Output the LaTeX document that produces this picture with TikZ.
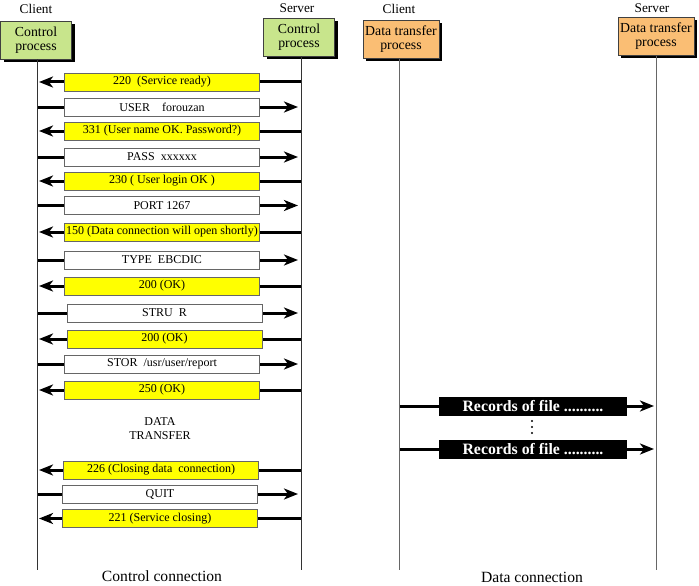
\documentclass[tikz,border=0pt]{standalone}
\usepackage{fontspec}
\setmainfont{Liberation Serif}
\usetikzlibrary{arrows.meta,positioning,shadows,backgrounds}
\definecolor{ctrlgreen}{RGB}{200,229,140}
\definecolor{dataorange}{RGB}{250,190,116}
\definecolor{msgyellow}{RGB}{255,255,0}

\begin{document}
\begin{tikzpicture}[x=1pt,y=-1pt,
  proc/.style={draw=black!75, fill=ctrlgreen, minimum width=71pt, minimum height=38pt, align=center, inner sep=0pt, font=\fontsize{13.8}{14}\selectfont, drop shadow={shadow xshift=3pt, shadow yshift=-3pt, fill=black, opacity=1}},
  side/.style={font=\fontsize{13.3}{14}\selectfont},
  reply/.style={draw=black!60, fill=msgyellow, minimum width=195pt, minimum height=18pt, inner sep=0pt, font=\fontsize{12}{13}\selectfont},
  cmd/.style={reply, fill=white},
  rec/.style={fill=black, text=white, minimum width=188pt, minimum height=19pt, inner sep=0pt, font=\fontsize{15.8}{16}\selectfont\bfseries},
  foot/.style={font=\fontsize{15.6}{16}\selectfont},
  life/.style={black!80, line width=0.8pt},
  toleft/.style={line width=3pt, -{Stealth[length=14pt,width=11pt,inset=4pt]}, shorten >=2pt},
  toright/.style={line width=3pt, -{Stealth[length=14pt,width=11pt,inset=4pt]}, shorten >=3pt}]
\useasboundingbox (0,0) rectangle (699,586);

% processes
\node[side] (cl1) at (36,9) {Client};
\node[side] (sv1) at (297,8) {Server};
\node[side] (cl2) at (399,9) {Client};
\node[side] (sv2) at (652,8) {Server};
\node[proc] (ccp) at (36,40) {Control\\process};
\node[proc] (scp) at (299,37) {Control\\process};
\node[proc, fill=dataorange, minimum width=76pt] (cdp) at (401,39.5) {Data transfer\\process};
\node[proc, fill=dataorange, minimum width=76pt] (sdp) at (656,36.5) {Data transfer\\process};

% lifelines
\coordinate (cli) at (37,570);
\coordinate (srv) at (301,570);
\coordinate (dcli) at (399,570);
\coordinate (dsrv) at (656,570);
\draw[life] (ccp.south -| cli) -- (cli);
\draw[life] (scp.south -| srv) -- (srv);
\draw[life, black!60] (cdp.south -| dcli) -- (dcli);
\draw[life, black!60] (sdp.south -| dsrv) -- (dsrv);

% control connection
\node[reply] (m1) at (162,82) {220\ \ (Service ready)};
\node[cmd] (m2) at (162,107) {USER\quad forouzan};
\node[reply] (m3) at (162,131) {331 (User name OK. Password?)};
\node[cmd] (m4) at (162,157) {PASS\ \ xxxxxx};
\node[reply] (m5) at (162,181) {230 ( User login OK )};
\node[cmd] (m6) at (162,205.5) {PORT 1267};
\node[reply] (m7) at (162,232) {150 (Data connection will open shortly)};
\node[cmd] (m8) at (162,260) {TYPE\ \ EBCDIC};
\node[reply] (m9) at (162,286) {200 (OK)};
\node[cmd] (m10) at (164.5,313) {STRU\ \ R};
\node[reply] (m11) at (164.5,339) {200 (OK)};
\node[cmd] (m12) at (162,364) {STOR\ \ /usr/user/report};
\node[reply] (m13) at (162,390) {250 (OK)};
\node[font=\fontsize{12}{14}\selectfont, align=center] (xfer) at (160,429) {DATA\\TRANSFER};
\node[reply] (m14) at (161,470) {226 (Closing data\ \ connection)};
\node[cmd] (m15) at (160,494) {QUIT};
\node[reply] (m16) at (160,518.5) {221 (Service closing)};

% data connection
\node[rec] (r1) at (533,406) {Records of file ..........};
\node[rec] (r2) at (533,449) {Records of file ..........};
\coordinate (dots) at (532,427);
\foreach \d in {-6,0,6}
  \fill ([yshift=\d pt]dots) circle (1.2pt);

\node[foot] (ctl) at (162,576) {Control connection};
\node[foot] (dat) at (532,577) {Data connection};

\begin{scope}[on background layer]
\foreach \m in {1,3,5,7,9,11,13,14,16}
  \draw[toleft] (m\m -| srv) -- (m\m -| cli);
\foreach \m in {2,4,6,8,10,12,15}
  \draw[toright] (m\m -| cli) -- (m\m -| srv);
\foreach \r in {1,2}
  \draw[toright, shorten >=2pt] (r\r -| dcli) -- (r\r -| dsrv);
\end{scope}
\end{tikzpicture}
\end{document}
